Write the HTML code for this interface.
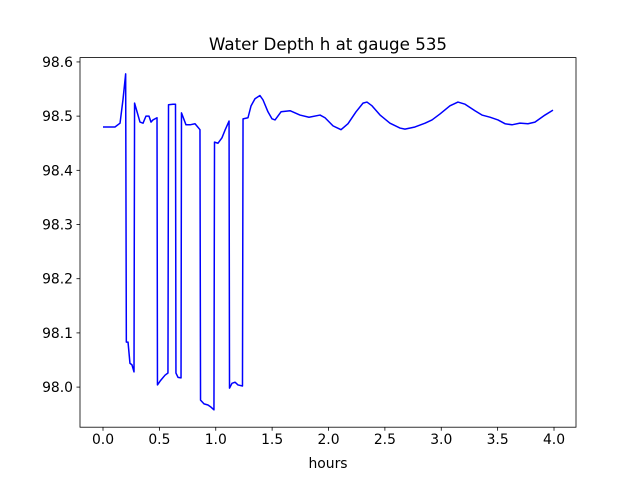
<!DOCTYPE html>
<html><head><meta charset="utf-8"><style>
html,body{margin:0;padding:0;background:#fff;}
svg{display:block;font-family:"DejaVu Sans","Liberation Sans",sans-serif;}
</style></head><body>
<svg id="chart" width="640" height="480" viewBox="0 0 640 480">
<text x="328" y="50" text-anchor="middle" font-size="16.7">Water Depth h at gauge 535</text>
<g id="plot"></g>
<text x="328" y="468" text-anchor="middle" font-size="13.9">hours</text>
</svg>
<script>
const hours=[0.00,0.106,0.151,0.177,0.201,0.207,0.222,0.239,0.257,0.275,0.280,0.328,0.355,0.381,0.408,0.426,0.443,0.479,0.483,0.506,0.550,0.576,0.581,0.621,0.643,0.647,0.665,0.692,0.696,0.736,0.772,0.816,0.860,0.865,0.896,0.931,0.958,0.984,0.989,1.020,1.055,1.082,1.118,1.122,1.144,1.171,1.197,1.237,1.242,1.286,1.313,1.348,1.392,1.419,1.463,1.499,1.526,1.579,1.659,1.747,1.827,1.925,1.969,2.040,2.111,2.173,2.244,2.306,2.341,2.386,2.457,2.545,2.634,2.678,2.767,2.856,2.918,2.989,3.077,3.148,3.211,3.299,3.361,3.432,3.503,3.565,3.627,3.698,3.769,3.831,3.920,3.991];
const depth=[98.480,98.480,98.487,98.530,98.578,98.083,98.083,98.044,98.041,98.028,98.524,98.489,98.487,98.500,98.500,98.489,98.493,98.497,98.004,98.011,98.022,98.026,98.521,98.522,98.522,98.026,98.018,98.017,98.506,98.484,98.484,98.486,98.475,97.976,97.969,97.967,97.963,97.958,98.452,98.450,98.460,98.474,98.491,97.998,98.007,98.009,98.004,98.002,98.495,98.497,98.519,98.532,98.538,98.530,98.508,98.495,98.493,98.508,98.510,98.502,98.498,98.502,98.497,98.482,98.475,98.486,98.508,98.524,98.526,98.519,98.502,98.487,98.478,98.476,98.480,98.487,98.493,98.504,98.519,98.526,98.522,98.510,98.502,98.498,98.493,98.486,98.484,98.487,98.486,98.489,98.502,98.511];
const xTicks=[0.0,0.5,1.0,1.5,2.0,2.5,3.0,3.5,4.0];
const xTickLabels=["0.0","0.5","1.0","1.5","2.0","2.5","3.0","3.5","4.0"];
const yTicks=[98.0,98.1,98.2,98.3,98.4,98.5,98.6];
const yTickLabels=["98.0","98.1","98.2","98.3","98.4","98.5","98.6"];

const L=80,R=576,T=57.6,B=427.2;
const xMin=-0.204,xMax=4.195,yMin=97.926,yMax=98.608;
function sx(v){return L+(v-xMin)/(xMax-xMin)*(R-L);}
function sy(v){return B-(v-yMin)/(yMax-yMin)*(B-T);}
const NS="http://www.w3.org/2000/svg";
const g=document.getElementById('plot');
function mk(tag,attrs){const e=document.createElementNS(NS,tag);for(const k in attrs)e.setAttribute(k,attrs[k]);g.appendChild(e);return e;}

let d="";
for(let i=0;i<hours.length;i++){d+=(i?"L":"M")+sx(hours[i]).toFixed(2)+","+sy(depth[i]).toFixed(2);}
const line=mk('path',{d:d,fill:'none',stroke:'#0000ff','stroke-width':1.5,'stroke-linejoin':'round'});



const frame=mk('rect',{x:L,y:T,width:R-L,height:B-T,fill:'none',stroke:'#000','stroke-width':0.8});



xTicks.forEach((v,i)=>{
  const x=sx(v);
  const t=mk('line',{x1:x,x2:x,y1:B,y2:B+3.5,stroke:'#000','stroke-width':0.8});
  
  
  const lb=mk('text',{x:x,y:B+17,'text-anchor':'middle','font-size':13.9});
  lb.textContent=xTickLabels[i];
  
  
});
yTicks.forEach((v,i)=>{
  const y=sy(v);
  const t=mk('line',{x1:L-3.5,x2:L,y1:y,y2:y,stroke:'#000','stroke-width':0.8});
  
  
  const lb=mk('text',{x:L-7,y:y+5,'text-anchor':'end','font-size':13.9});
  lb.textContent=yTickLabels[i];
  
  
});
</script>
</body></html>
